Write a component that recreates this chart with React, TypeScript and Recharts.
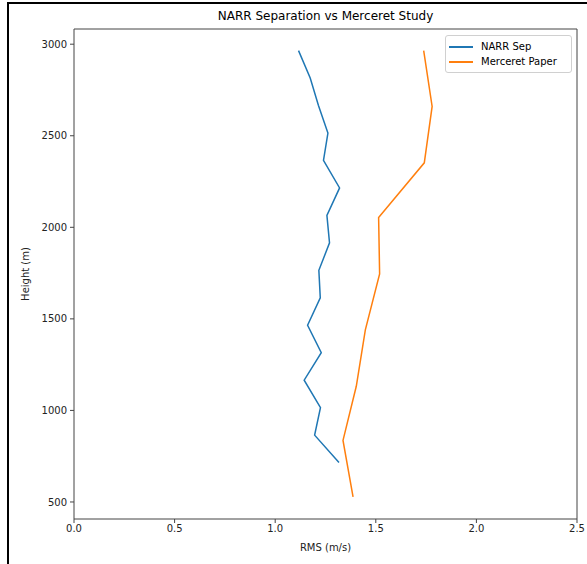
import React from 'react';
import { ScatterChart, Scatter, XAxis, YAxis, Legend, ReferenceArea } from 'recharts';

// NARR separation profile (height in m, RMS in m/s)
const narrHeights = [2965, 2815, 2665, 2515, 2365, 2215, 2065, 1915, 1765, 1615, 1465, 1315, 1165, 1015, 865, 715];
const narrRms = [1.116, 1.174, 1.215, 1.262, 1.24, 1.32, 1.257, 1.27, 1.217, 1.224, 1.161, 1.229, 1.144, 1.225, 1.196, 1.317];

// Merceret paper profile
const mercHeights = [2965, 2660, 2352, 2053, 1746, 1440, 1132, 836, 528];
const mercRms = [1.738, 1.78, 1.741, 1.514, 1.519, 1.448, 1.403, 1.337, 1.387];

const xTicks = [0, 0.5, 1, 1.5, 2, 2.5];
const yTicks = [500, 1000, 1500, 2000, 2500, 3000];

const narrData = narrHeights.map((h, i) => ({ h, x: narrRms[i] }));
const mercData = mercHeights.map((h, i) => ({ h, x: mercRms[i] }));

const FONT = '"DejaVu Sans", sans-serif';
const BLUE = '#1f77b4';
const ORANGE = '#ff7f0e';

const series = [
  { name: 'NARR Sep', color: BLUE },
  { name: 'Merceret Paper', color: ORANGE },
];

const noDot = () => <g />;

const LegendBox = () => (
  <div
    style={{
      background: 'rgba(255,255,255,0.8)',
      border: '1px solid #d0d0d0',
      borderRadius: 3,
      padding: '3px 6px 3px 3px',
      fontFamily: FONT,
      fontSize: 10,
      color: '#000',
      width: 116,
      boxSizing: 'content-box',
      textAlign: 'left',
    }}
  >
    {series.map((s) => (
      <div key={s.name} style={{ display: 'flex', alignItems: 'center', height: 15 }}>
        <span style={{ display: 'inline-block', width: 24, height: 0, borderTop: `2px solid ${s.color}`, marginRight: 8 }} />
        <span>{s.name}</span>
      </div>
    ))}
  </div>
);

export default function App() {
  return (
    <div style={{ position: 'absolute', left: 0, top: 0, width: 587, height: 564, background: '#fff' }}>
      <div
        style={{
          position: 'absolute',
          left: 7,
          top: 2,
          width: 580,
          height: 562,
          borderLeft: '2px solid #000',
          borderTop: '2px solid #000',
          boxSizing: 'border-box',
        }}
      />
      <div
        style={{
          position: 'absolute',
          left: 74,
          width: 503,
          top: 9,
          textAlign: 'center',
          fontFamily: FONT,
          fontSize: 12,
          color: '#000',
        }}
      >
        NARR Separation vs Merceret Study
      </div>
      <ScatterChart width={587} height={564} margin={{ top: 29, right: 10, bottom: 0, left: 0 }}>
        <XAxis
          type="number"
          dataKey="x"
          domain={[0, 2.5]}
          ticks={xTicks}
          tickFormatter={(v: number) => v.toFixed(1)}
          height={45}
          axisLine={false}
          tickSize={4}
          tickMargin={2}
          tickLine={{ stroke: '#444' }}
          tick={{ fontSize: 10, fill: '#222', fontFamily: FONT }}
          allowDataOverflow
          label={{ value: 'RMS (m/s)', position: 'center', dy: 6, fontSize: 10, fill: '#222', fontFamily: FONT }}
        />
        <YAxis
          type="number"
          dataKey="h"
          domain={[407, 3083]}
          ticks={yTicks}
          width={74}
          axisLine={false}
          tickSize={4}
          tickMargin={3}
          tickLine={{ stroke: '#444' }}
          tick={{ fontSize: 10, fill: '#222', fontFamily: FONT }}
          allowDataOverflow
          label={{ value: 'Height (m)', angle: -90, position: 'center', dx: -12, fontSize: 10, fill: '#222', fontFamily: FONT }}
        />
        <ReferenceArea x1={0} x2={2.5} y1={407} y2={3083} fill="none" stroke="#444" strokeWidth={1} />
        <Legend
          layout="vertical"
          verticalAlign="middle"
          align="center"
          content={<LegendBox />}
          wrapperStyle={{ top: 35, left: 445, right: 'auto', bottom: 'auto', width: 127, height: 38, margin: 0 }}
        />
        <Scatter
          name="NARR Sep"
          data={narrData}
          fill={BLUE}
          legendType="line"
          line={{ stroke: BLUE, strokeWidth: 1.5 }}
          shape={noDot}
          isAnimationActive={false}
        />
        <Scatter
          name="Merceret Paper"
          data={mercData}
          fill={ORANGE}
          legendType="line"
          line={{ stroke: ORANGE, strokeWidth: 1.5 }}
          shape={noDot}
          isAnimationActive={false}
        />
      </ScatterChart>
    </div>
  );
}
